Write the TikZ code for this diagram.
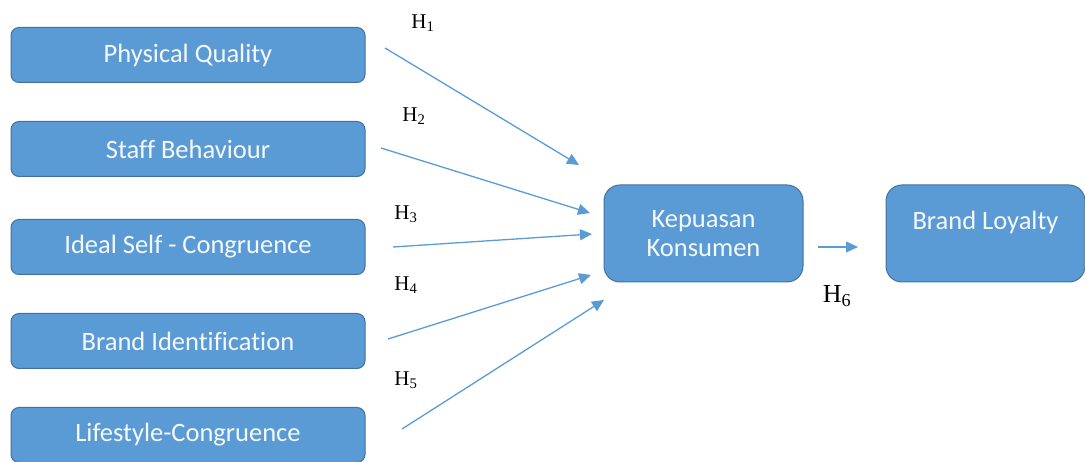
\documentclass[tikz,border=0pt]{standalone}
\usepackage{fontspec}
\setmainfont{Liberation Serif}
\newfontfamily\boxfont[Ligatures=NoCommon]{Carlito}
\usetikzlibrary{positioning,arrows.meta}
\definecolor{boxblue}{HTML}{5B9BD5}
\definecolor{boxedge}{HTML}{41719C}

\begin{document}
\begin{tikzpicture}[
    x=1pt, y=-1pt,
    var/.style={rectangle, draw=boxedge, fill=boxblue, line width=1pt, minimum width=354pt, minimum height=55pt, rounded corners=8pt, text=white!94!boxblue, font=\boxfont\fontsize{26.5}{29}\selectfont},
    mid/.style={var, minimum width=199pt, minimum height=97pt, rounded corners=16pt, align=center},
    arrow/.style={-{Triangle[length=12pt, width=11pt]}, boxblue, line width=1.3pt},
    hyp/.style={font=\fontsize{21}{24}\selectfont}
]
\useasboundingbox (0,0) rectangle (1085,462);

% Variables
\node[var] (pq) at (188,55) {Physical Quality};
\node[var] (sb) at (188,149) {Staff Behaviour};
\node[var] (isc) at (188,247) {Ideal Self - Congruence};
\node[var] (bi) at (188,341) {Brand Identification};
\node[var] (lc) at (188,435) {Lifestyle-Congruence};

% Mediator and outcome
\node[mid] (kk) at (703.5,233.5) {\raisebox{-3pt}{Kepuasan}\\\raisebox{-3pt}{Konsumen}};
\node[mid] (bl) at (985.5,233.5) {\raisebox{-3pt}{Brand Loyalty}\\\mbox{}};

% Arrow ends
\coordinate (s1) at (385,48);
\coordinate (s2) at (381,148);
\coordinate (s3) at (393,247);
\coordinate (s4) at (388,339);
\coordinate (s5) at (402,429);
\coordinate (t1) at (579,165);
\coordinate (t2) at (590,213);
\coordinate (t3) at (592,234);
\coordinate (t4) at (591,275);
\coordinate (t5) at (604,300);
\coordinate (s6) at (818,247);
\coordinate (t6) at (858,247);

% Arrows
\draw[arrow] (s1) -- (t1);
\draw[arrow] (s2) -- (t2);
\draw[arrow] (s3) -- (t3);
\draw[arrow] (s4) -- (t4);
\draw[arrow] (s5) -- (t5);
\draw[arrow] (s6) -- (t6);

% Hypotheses
\node[hyp] (h1) at (423,23) {H\textsubscript{1}};
\node[hyp] (h2) at (414,116) {H\textsubscript{2}};
\node[hyp] (h3) at (406,214) {H\textsubscript{3}};
\node[hyp] (h4) at (406,285) {H\textsubscript{4}};
\node[hyp] (h5) at (406,380) {H\textsubscript{5}};
\node[hyp, font=\fontsize{26}{28}\selectfont] (h6) at (837,296) {H\textsubscript{6}};

\end{tikzpicture}
\end{document}
